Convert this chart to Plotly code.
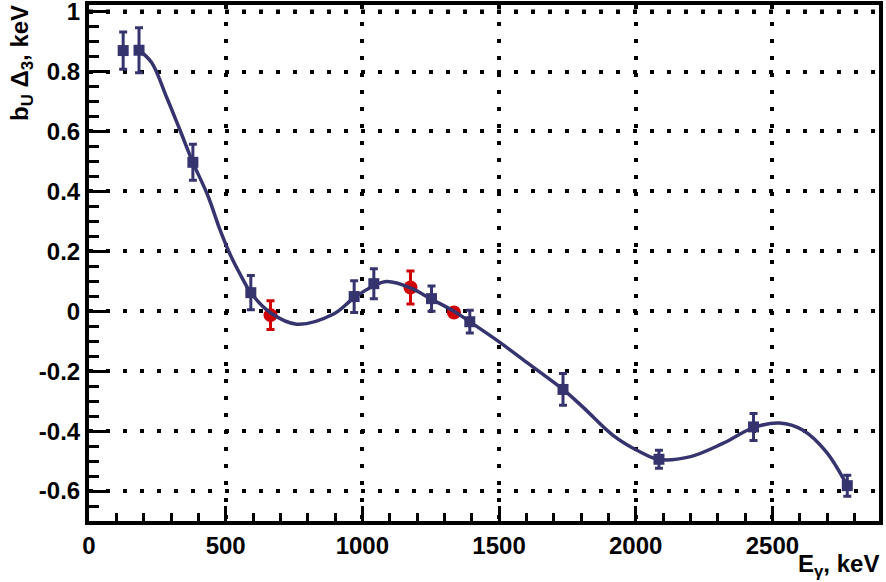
import plotly.graph_objects as go

# ---- data ----
blue_x = [125, 183, 380, 592, 970, 1042, 1253, 1393, 1734, 2085, 2431, 2774]
blue_y = [0.870, 0.871, 0.497, 0.062, 0.049, 0.092, 0.042, -0.035, -0.261, -0.494, -0.386, -0.582]
blue_err = [0.062, 0.075, 0.060, 0.057, 0.053, 0.050, 0.042, 0.038, 0.053, 0.030, 0.045, 0.035]

red_x = [664, 1176, 1335]
red_y = [-0.013, 0.079, -0.004]
red_err = [0.048, 0.055, 0.012]

curve_x = [183, 229, 284, 333, 380, 436, 479, 516, 552, 592, 664, 760, 893, 970, 1042,
           1090, 1176, 1253, 1335, 1393, 1503, 1600, 1734, 1807, 1917, 2015, 2082, 2197,
           2319, 2429, 2526, 2612, 2697, 2774]
curve_y = [0.871, 0.830, 0.714, 0.604, 0.497, 0.383, 0.272, 0.190, 0.125, 0.062, -0.005, -0.043,
           -0.010, 0.045, 0.085, 0.099, 0.078, 0.040, 0.000, -0.035, -0.104, -0.170, -0.261,
           -0.320, -0.414, -0.469, -0.494, -0.486, -0.441, -0.389, -0.373, -0.397, -0.469, -0.582]

x_tick_vals = [0, 500, 1000, 1500, 2000, 2500]
x_tick_text = ["0", "500", "1000", "1500", "2000", "2500"]
y_tick_vals = [-0.6, -0.4, -0.2, 0, 0.2, 0.4, 0.6, 0.8, 1.0]
y_tick_text = ["-0.6", "-0.4", "-0.2", "0", "0.2", "0.4", "0.6", "0.8", "1"]

BLUE = "#35346e"
RED = "#d00000"
FONT = "Liberation Sans"
GRID_DASH = "4px,13px"

fig = go.Figure()

fig.add_trace(go.Scatter(
    x=blue_x, y=blue_y, mode="markers",
    marker=dict(symbol="square", size=11, color=BLUE),
    error_y=dict(type="data", array=blue_err, visible=True, color=BLUE, thickness=3, width=4),
    showlegend=False, hoverinfo="x+y"))

fig.add_trace(go.Scatter(
    x=red_x, y=red_y, mode="markers",
    marker=dict(symbol="circle", size=14, color=RED),
    error_y=dict(type="data", array=red_err, visible=True, color=RED, thickness=3, width=4),
    showlegend=False, hoverinfo="x+y"))

fig.add_trace(go.Scatter(
    x=curve_x, y=curve_y, mode="lines",
    line=dict(color=BLUE, width=3.5, shape="spline", smoothing=1.0),
    showlegend=False, hoverinfo="skip"))

axis_common = dict(
    showline=True, mirror=True, linecolor="black", linewidth=4,
    ticks="inside", tickcolor="black", tickwidth=3,
    showgrid=True, gridcolor="black", gridwidth=4, griddash=GRID_DASH,
    zeroline=False, automargin=False, ticklabeloverflow="allow",
    tickfont=dict(family=FONT, size=24, color="black", weight="bold"),
)

fig.update_xaxes(
    **axis_common, range=[0, 2890], tickmode="array",
    tickvals=x_tick_vals, ticktext=x_tick_text, ticklen=15,
    minor=dict(dtick=100, tick0=0, ticklen=8, tickwidth=3, ticks="inside",
               tickcolor="black", showgrid=False),
)
fig.update_yaxes(
    **axis_common, range=[-0.7, 1.022], tickmode="array",
    tickvals=y_tick_vals, ticktext=y_tick_text, ticklen=20,
    minor=dict(dtick=0.05, tick0=0, ticklen=10, tickwidth=3, ticks="inside",
               tickcolor="black", showgrid=False),
)

# top grid line (Plotly drops gridlines this close to the frame edge)
fig.add_shape(type="line", xref="paper", x0=0, x1=1, yref="y",
              y0=max(y_tick_vals), y1=max(y_tick_vals), layer="below",
              line=dict(color="black", width=4, dash=GRID_DASH))

fig.add_annotation(
    text="E<sub>γ</sub>, keV", xref="paper", yref="paper", x=1, y=0,
    xanchor="right", yanchor="top", yshift=-27, xshift=2, showarrow=False,
    font=dict(family=FONT, size=24, color="black", weight="bold"))

fig.add_annotation(
    text="b<sub>U</sub> Δ<sub>3</sub>, keV", xref="paper", yref="paper", x=0, y=1,
    xanchor="center", yanchor="top", xshift=-68, yshift=2, textangle=-90, showarrow=False,
    font=dict(family=FONT, size=24, color="black", weight="bold"))

fig.update_layout(
    width=886, height=582,
    margin=dict(l=89, r=7, t=5, b=61),
    paper_bgcolor="white", plot_bgcolor="white",
    showlegend=False,
)

fig.write_html("out.html", config={"displayModeBar": False},
               post_script="document.body.style.margin='0';")
